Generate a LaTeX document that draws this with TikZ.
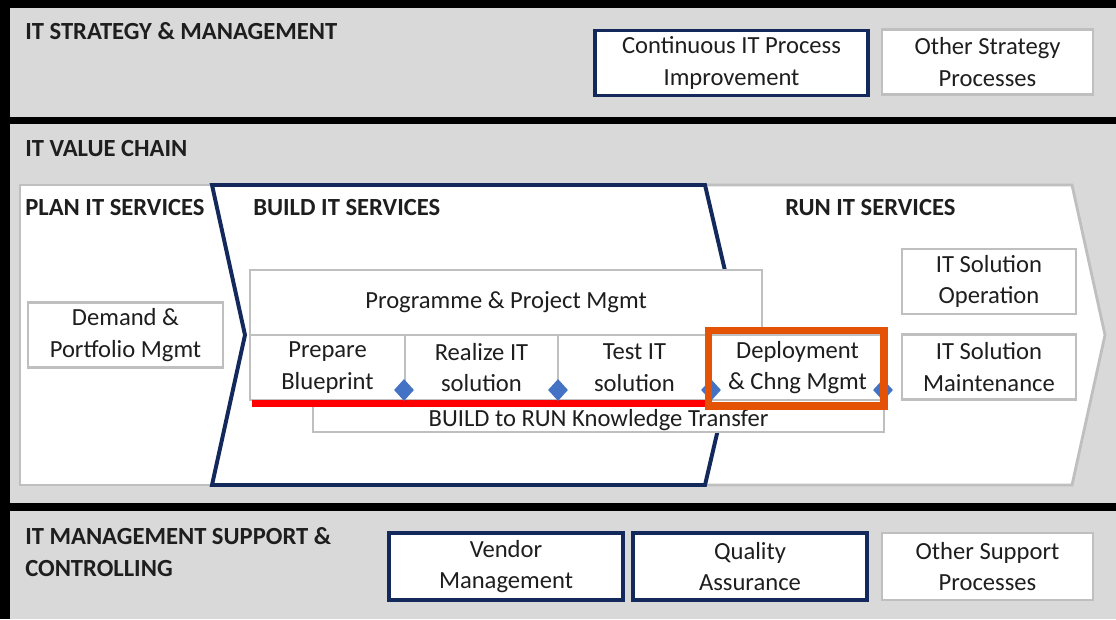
\documentclass[tikz,border=0pt]{standalone}
\usepackage{fontspec}
\setmainfont{Carlito}
\definecolor{bandgray}{HTML}{D9D9D9}
\definecolor{boxline}{HTML}{BFBFBF}
\definecolor{navyline}{HTML}{13295B}
\definecolor{hiorange}{HTML}{E35205}
\definecolor{gateblue}{HTML}{4472C4}
\definecolor{txt}{HTML}{1E1E1E}

\begin{document}
\begin{tikzpicture}[x=0.025cm, y=-0.025cm,
  every node/.style = {font=\fontsize{17.5}{22.5}\selectfont, text=txt},
  band/.style = {fill=bandgray, draw=none},
  heading/.style = {anchor=west, align=left, inner sep=0pt,
    font=\fontsize{17.5}{22.5}\selectfont\bfseries},
  graybox/.style = {draw=boxline, line width=2pt, fill=white,
    align=center, inner sep=0pt, minimum height=1.625cm},
  navybox/.style = {graybox, draw=navyline, line width=2.8pt},
  gate/.style = {diamond, fill=gateblue, draw=none, inner sep=0pt,
    minimum width=0.5cm, minimum height=0.55cm}]
  \usetikzlibrary{shapes.geometric}

  % background and bands
  \fill[black] (0,0) rectangle (1116,619);
  \useasboundingbox (0,0) rectangle (1116,619);
  \fill[band] (10,8) rectangle (1116,117);
  \fill[band] (10,124) rectangle (1116,503);
  \fill[band] (10,511) rectangle (1116,619);

  % IT strategy & management
  \node[heading] (strat) at (25,31) {IT STRATEGY \& MANAGEMENT};
  \node[navybox, minimum width=6.825cm] (cip) at (731.5,63)
    {Continuous IT Process\\Improvement};
  \node[graybox, minimum width=5.275cm] (osp) at (987.5,62)
    {Other Strategy\\Processes};

  % IT value chain
  \node[heading] (chain) at (25,149) {IT VALUE CHAIN};
  \draw[boxline, line width=2pt, fill=white] (20,185) rectangle (300,485);
  \draw[boxline, line width=2pt, fill=white]
    (660,185) -- (1072,185) -- (1105,335) -- (1072,485) -- (660,485) -- cycle;
  \draw[navyline, line width=2.8pt, fill=white]
    (212,185) -- (705,185) -- (740,335) -- (705,485) -- (212,485) -- (245,335) -- cycle;
  \node[heading] (plan) at (25,208) {PLAN IT SERVICES};
  \node[heading] (build) at (253,208) {BUILD IT SERVICES};
  \node[heading] (run) at (785,208) {RUN IT SERVICES};

  \node[graybox, minimum width=4.875cm] (demand) at (125.5,335)
    {Demand \&\\Portfolio Mgmt};
  \node[graybox, minimum width=12.8cm] (ppm) at (506,302.5)
    {Programme \& Project Mgmt};
  \node[graybox, minimum width=14.275cm, minimum height=0.8cm,
    text height=0.6cm, text depth=0.1cm] (kt) at (598.5,416)
    {BUILD to RUN Knowledge Transfer};
  \node[graybox, minimum width=3.875cm] (prep) at (327.5,367.5)
    {Prepare\\Blueprint};
  \node[graybox, minimum width=3.825cm] (real) at (481.5,367.5)
    {Realize IT\\solution};
  \node[graybox, minimum width=3.825cm] (test) at (634.5,367.5)
    {Test IT\\solution};
  \node[graybox, minimum width=4.325cm] (depl) at (797.5,367.5)
    {Deployment\\\& Chng Mgmt};
  \node[graybox, minimum width=4.35cm] (oper) at (989,281.5)
    {IT Solution\\Operation};
  \node[graybox, minimum width=4.35cm] (maint) at (989,367)
    {IT Solution\\Maintenance};

  % highlight line under the build steps
  \coordinate (redstart) at (252,403.5);
  \coordinate (redend) at (710,403.5);
  \draw[red, line width=4.6pt] (redstart) -- (redend);

  % quality gates
  \node[gate] (g1) at (404,390) {};
  \node[gate] (g2) at (558,390) {};
  \node[gate] (g3) at (711,390) {};
  \node[gate] (g4) at (883,390) {};

  \draw[hiorange, line width=5pt] (708.5,330.5) rectangle (884,406);

  % IT management support & controlling
  \node[heading] (supp) at (25,552) {IT MANAGEMENT SUPPORT \&\\CONTROLLING};
  \node[navybox, minimum width=5.85cm, minimum height=1.675cm] (vend) at (506,566.5)
    {Vendor\\Management};
  \node[navybox, minimum width=5.85cm, minimum height=1.675cm] (qa) at (750,566.5)
    {Quality\\Assurance};
  \node[graybox, minimum width=5.275cm, minimum height=1.675cm] (osup) at (987.5,566.5)
    {Other Support\\Processes};
\end{tikzpicture}
\end{document}
